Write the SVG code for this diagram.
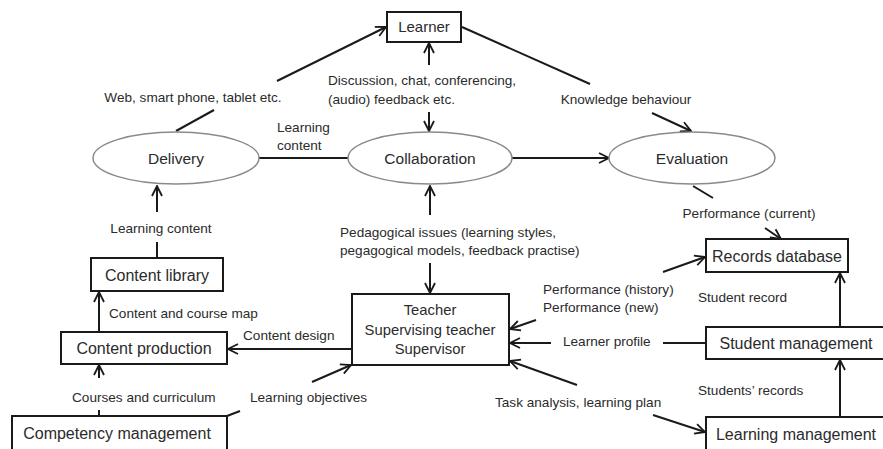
<svg xmlns="http://www.w3.org/2000/svg" width="883" height="449" viewBox="0 0 883 449">
<style>
text{font-family:"Liberation Sans",Arial,sans-serif;fill:#2b2b2b}
.lbl{font-size:13.6px}
.box{fill:#fff;stroke:#1a1a1a;stroke-width:2}
.bt{font-size:16px;text-anchor:middle}
.tt{font-size:14.8px;text-anchor:middle}
.ell{fill:#fff;stroke:#8a8a8a;stroke-width:1.5}
.et{font-size:15.5px;text-anchor:middle}
.c{stroke:#1a1a1a;stroke-width:2;fill:none}
.a{marker-end:url(#ah)}
.m{text-anchor:middle}
</style>
<defs>
<marker id="ah" viewBox="0 0 12 12" refX="11" refY="6" markerWidth="12" markerHeight="12" markerUnits="userSpaceOnUse" orient="auto">
<path d="M1,1 L11,6 L1,11" fill="none" stroke="#1a1a1a" stroke-width="1.8"/>
</marker>
</defs>
<rect width="883" height="449" fill="#fff"/>
<g id="connectors">
<line class="c" x1="176" y1="131" x2="214" y2="110"/>
<line class="c a" x1="277" y1="81" x2="386" y2="27"/>
<line class="c a" x1="429" y1="65" x2="429" y2="43"/>
<line class="c a" x1="429" y1="112" x2="429" y2="131"/>
<line class="c" x1="462" y1="27" x2="590" y2="84"/>
<line class="c a" x1="652" y1="113" x2="691" y2="131"/>
<line class="c" x1="258" y1="158" x2="348" y2="158"/>
<line class="c a" x1="512" y1="158" x2="609" y2="158"/>
<line class="c" x1="693" y1="186" x2="713" y2="198"/>
<line class="c a" x1="765" y1="228" x2="781" y2="239"/>
<line class="c a" x1="157" y1="212" x2="157" y2="186"/>
<line class="c" x1="157" y1="242" x2="157" y2="258"/>
<line class="c a" x1="99" y1="332" x2="99" y2="292"/>
<line class="c a" x1="352" y1="349" x2="228" y2="349"/>
<line class="c a" x1="99" y1="378" x2="99" y2="365"/>
<line class="c" x1="99" y1="410" x2="99" y2="416"/>
<line class="c" x1="227" y1="416" x2="240" y2="411"/>
<line class="c a" x1="312" y1="382" x2="351" y2="365"/>
<line class="c a" x1="430" y1="215" x2="430" y2="186"/>
<line class="c a" x1="430" y1="263" x2="430" y2="293"/>
<line class="c a" x1="663" y1="272" x2="705" y2="257"/>
<line class="c a" x1="536" y1="320" x2="510" y2="329"/>
<line class="c" x1="706" y1="343" x2="663" y2="343"/>
<line class="c a" x1="551" y1="343" x2="510" y2="343"/>
<line class="c a" x1="577" y1="385" x2="510" y2="361"/>
<line class="c a" x1="653" y1="415" x2="705" y2="432"/>
<line class="c a" x1="840" y1="326" x2="840" y2="273"/>
<line class="c a" x1="840" y1="417" x2="840" y2="360"/>
</g>
<g id="labels">
<text class="lbl m" x="193" y="102">Web, smart phone, tablet etc.</text>
<text class="lbl" x="328" y="85">Discussion, chat, conferencing,</text>
<text class="lbl" x="328" y="104">(audio) feedback etc.</text>
<text class="lbl" x="277" y="132">Learning</text>
<text class="lbl" x="277" y="150">content</text>
<text class="lbl m" x="626" y="104">Knowledge behaviour</text>
<text class="lbl m" x="749" y="218">Performance (current)</text>
<text class="lbl m" x="161" y="233">Learning content</text>
<text class="lbl" x="340" y="237">Pedagogical issues (learning styles,</text>
<text class="lbl" x="340" y="255">pegagogical models, feedback practise)</text>
<text class="lbl" x="109" y="318">Content and course map</text>
<text class="lbl" x="243" y="340">Content design</text>
<text class="lbl" x="543" y="294">Performance (history)</text>
<text class="lbl" x="543" y="312">Performance (new)</text>
<text class="lbl" x="698" y="302">Student record</text>
<text class="lbl" x="563" y="346">Learner profile</text>
<text class="lbl" x="72" y="402">Courses and curriculum</text>
<text class="lbl" x="250" y="402">Learning objectives</text>
<text class="lbl" x="495" y="407">Task analysis, learning plan</text>
<text class="lbl" x="698" y="395">Students’ records</text>
</g>
<g id="learner"><rect class="box" x="387" y="12" width="74" height="30"/><text class="bt" x="424" y="32" style="font-size:15px">Learner</text></g>
<g id="delivery"><ellipse class="ell" cx="176" cy="158" rx="83" ry="26"/><text class="et" x="176" y="164">Delivery</text></g>
<g id="collaboration"><ellipse class="ell" cx="430" cy="158" rx="82" ry="26"/><text class="et" x="430" y="164">Collaboration</text></g>
<g id="evaluation"><ellipse class="ell" cx="692" cy="158" rx="83" ry="26"/><text class="et" x="692" y="164">Evaluation</text></g>
<g id="records-database"><rect class="box" x="706" y="239" width="142" height="33"/><text class="bt" x="777" y="262">Records database</text></g>
<g id="student-management"><rect class="box" x="706" y="327" width="190" height="32"/><text class="bt" x="796" y="349">Student management</text></g>
<g id="learning-management"><rect class="box" x="706" y="417" width="190" height="50"/><text class="bt" x="796" y="440">Learning management</text></g>
<g id="teacher"><rect class="box" x="352" y="294" width="157" height="71"/><text class="tt" x="430" y="315">Teacher</text><text class="tt" x="430" y="335">Supervising teacher</text><text class="tt" x="430" y="354">Supervisor</text></g>
<g id="content-library"><rect class="box" x="91" y="258" width="132" height="33"/><text class="bt" x="157" y="281">Content library</text></g>
<g id="content-production"><rect class="box" x="61" y="332" width="166" height="32"/><text class="bt" x="144" y="354">Content production</text></g>
<g id="competency-management"><rect class="box" x="12" y="416" width="215" height="50"/><text class="bt" x="117" y="439">Competency management</text></g>
</svg>
